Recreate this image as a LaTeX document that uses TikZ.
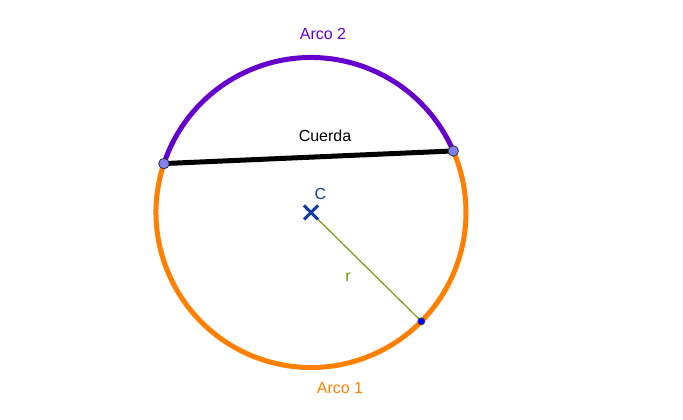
\documentclass[tikz,border=0pt]{standalone}
\usepackage{fontspec}
\setmainfont{Liberation Sans}
\usetikzlibrary{calc}
\begin{document}
\begin{tikzpicture}[x=1pt,y=1pt,
  lbl/.style={inner sep=0pt, font=\fontsize{16}{18}\selectfont},
  pt/.style={circle, draw=black!80, line width=0.8pt, inner sep=0pt, minimum size=10.5pt},
]
\definecolor{arcpurple}{HTML}{6600CC}
\definecolor{arcorange}{HTML}{FF7F00}
\definecolor{radgreen}{HTML}{669900}
\definecolor{cblue}{HTML}{0F3CA0}
\definecolor{ptfill}{HTML}{8080F0}
\useasboundingbox (0,0) rectangle (683,420);
\coordinate (C) at (311,207.5);
\coordinate (A) at ($(C)+(161.6:155)$);
\coordinate (B) at ($(C)+(23.4:155)$);
\coordinate (D) at ($(C)+(-44.6:155)$);
% arcs
\draw[arcpurple, line width=5pt] (B) arc[start angle=23.4, end angle=161.6, radius=155];
\draw[arcorange, line width=5pt] (A) arc[start angle=161.6, end angle=383.4, radius=155];
% chord
\draw[black, line width=5pt] (A) -- (B);
% radius
\draw[radgreen, line width=1.1pt] (C) -- (D);
% center cross
\draw[cblue, line width=3pt] ($(C)+(-7,-7)$) -- ($(C)+(7,7)$) ($(C)+(-7,7)$) -- ($(C)+(7,-7)$);
% points
\node[pt, fill=ptfill] (pA) at (A) {};
\node[pt, fill=ptfill] (pB) at (B) {};
\node[circle, draw=black!80, fill=blue, line width=0.6pt, inner sep=0pt, minimum size=7pt] (pD) at (D) {};
% labels
\node[lbl, text=arcpurple] (l2) at (323,386) {Arco 2};
\node[lbl, text=black] (lc) at (325,284.5) {Cuerda};
\node[lbl, text=cblue] (lC) at (320.5,226) {C};
\node[lbl, text=radgreen] (lr) at (348,143) {r};
\node[lbl, text=arcorange] (l1) at (340,32) {Arco 1};
\end{tikzpicture}
\end{document}
